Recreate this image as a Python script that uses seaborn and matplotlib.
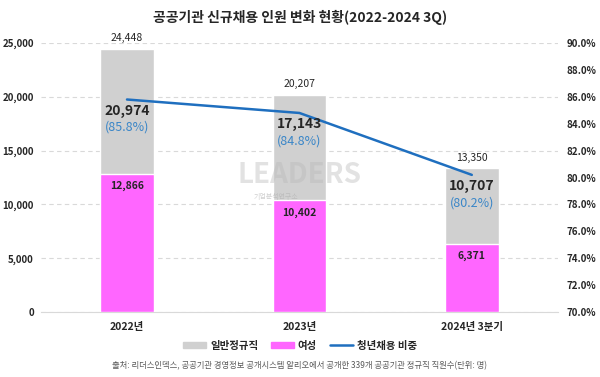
import numpy as np
import matplotlib
matplotlib.use("Agg")
import matplotlib.pyplot as plt
import seaborn as sns
from matplotlib.patches import Patch
from matplotlib.lines import Line2D

# data
years = ["2022년", "2023년", "2024년 3분기"]
total_hires = [24448, 20207, 13350]
women_hires = [12866, 10402, 6371]
youth_hires = [20974, 17143, 10707]
youth_ratio = [85.8, 84.8, 80.2]

GRAY = "#d0d0d0"
PINK = "#ff66ff"
BLUE = "#1f6fbf"
LBLUE = "#3a86c8"

sns.set_style("white")
plt.rcParams["font.family"] = ["Noto Sans CJK KR", "DejaVu Sans"]

fig = plt.figure(figsize=(6, 3.77), dpi=100)
ax = fig.add_axes([0.068, 0.172, 0.862, 0.714])

sns.barplot(x=years, y=total_hires, color=GRAY, width=0.31, ax=ax,
            saturation=1, errorbar=None, zorder=2)
sns.barplot(x=years, y=women_hires, color=PINK, width=0.31, ax=ax,
            saturation=1, errorbar=None, zorder=3)

ax.set_xlim(-0.5, 2.5)
ax.set_ylim(0, 25000)
ax.set_yticks(np.arange(0, 25001, 5000))
ax.set_yticklabels([f"{v:,}" for v in range(0, 25001, 5000)])
ax.yaxis.grid(True, linestyle=(0, (4, 3)), color="#d9d9d9", linewidth=0.8)
ax.set_axisbelow(True)
for s in ["top", "right", "left"]:
    ax.spines[s].set_visible(False)
ax.spines["bottom"].set_color("#d9d9d9")
ax.tick_params(axis="y", length=0, labelsize=7, pad=5)
ax.tick_params(axis="x", length=0, labelsize=7.5, pad=7)
for lab in ax.get_xticklabels() + ax.get_yticklabels():
    lab.set_fontweight("bold")
ax.set_xlabel("")
ax.set_ylabel("")

# youth ratio on right axis
ax2 = ax.twinx()
x_pos = np.arange(len(years))
sns.lineplot(x=x_pos, y=youth_ratio, color=BLUE, linewidth=1.8, ax=ax2)
ax2.set_ylim(70, 90)
ax2.set_yticks(np.arange(70, 90.1, 2))
ax2.set_yticklabels([f"{v:.1f}%" for v in np.arange(70, 90.1, 2)])
ax2.tick_params(axis="y", length=0, labelsize=7, pad=6)
for lab in ax2.get_yticklabels():
    lab.set_fontweight("bold")
for s in ax2.spines.values():
    s.set_visible(False)
ax2.set_ylabel("")

# watermark
fig.text(0.5, 0.535, "LEADERS", fontsize=20, fontweight="bold", color="#b8b8b8",
         alpha=0.4, ha="center", va="center", zorder=0)
fig.text(0.46, 0.477, "기업분석연구소", fontsize=5, color="#b0b0b0", alpha=0.6,
         ha="center", va="center")

# labels
for i in range(len(years)):
    ax.annotate(f"{total_hires[i]:,}", (i, total_hires[i]), xytext=(0, 4),
                textcoords="offset points", ha="center", va="bottom",
                fontsize=7.5, zorder=5)
    ax.annotate(f"{women_hires[i]:,}", (i, women_hires[i]), xytext=(0, -9),
                textcoords="offset points", ha="center", va="center",
                fontsize=7.5, fontweight="bold", zorder=5)
    ax2.annotate(f"{youth_hires[i]:,}", (i, youth_ratio[i]), xytext=(0, -8),
                 textcoords="offset points", ha="center", va="center",
                 fontsize=10, fontweight="bold", zorder=5)
    ax2.annotate(f"({youth_ratio[i]}%)", (i, youth_ratio[i]), xytext=(0, -20),
                 textcoords="offset points", ha="center", va="center",
                 fontsize=9, color=LBLUE, zorder=5)

fig.text(0.5, 0.955, "공공기관 신규채용 인원 변화 현황(2022-2024 3Q)",
         ha="center", va="center", fontsize=10, fontweight="bold")

handles = [Patch(color=GRAY, label="일반정규직"),
           Patch(color=PINK, label="여성"),
           Line2D([0], [0], color=BLUE, linewidth=1.8, label="청년채용 비중")]
fig.legend(handles=handles, loc="center", bbox_to_anchor=(0.5, 0.083), ncol=3,
           frameon=False, handlelength=2.2, handleheight=0.6,
           columnspacing=1.2, handletextpad=0.4,
           prop={"weight": "bold", "size": 7.5})

fig.text(0.5, 0.03, "출처: 리더스인덱스, 공공기관 경영정보 공개시스템 알리오에서 공개한 339개 공공기관 정규직 직원수(단위: 명)",
         ha="center", va="center", fontsize=6, color="#595959")

fig.savefig("out.png", dpi=100)
